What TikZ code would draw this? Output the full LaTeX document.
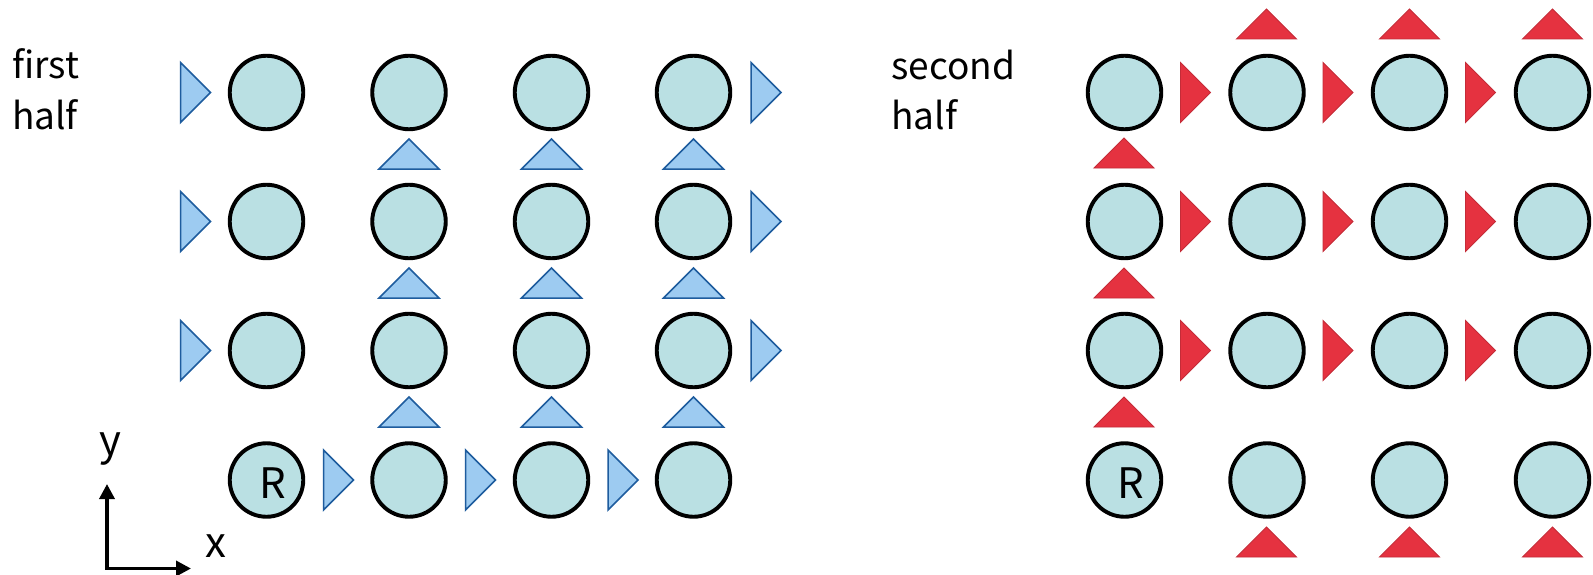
\documentclass[tikz,border=0pt]{standalone}
\usepackage{fontspec}
\setmainfont{Noto Sans CJK JP}
\usetikzlibrary{arrows.meta}
\definecolor{cellfill}{RGB}{186,224,227}
\definecolor{bluefill}{RGB}{157,203,241}
\definecolor{blueline}{RGB}{30,92,158}
\definecolor{redfill}{RGB}{229,50,64}
\definecolor{redline}{RGB}{196,44,56}
\begin{document}
\begin{tikzpicture}[x=1pt,y=-1pt,
  cell/.style={circle, draw=black, line width=3.9pt, fill=cellfill, minimum size=73.5pt, inner sep=0pt},
  bt/.style={fill=bluefill, draw=blueline, line width=1.5pt, line join=miter},
  rt/.style={fill=redfill, draw=redline, line width=0.9pt, line join=miter},
  uptri/.pic={\path[pic actions] (-30,15) -- (0,-15) -- (30,15) -- cycle;},
  righttri/.pic={\path[pic actions] (-15,-30) -- (15,0) -- (-15,30) -- cycle;},
  lbl/.style={font=\fontsize{37}{42}\selectfont, inner sep=0pt, anchor=base west},
  biglbl/.style={font=\fontsize{42}{48}\selectfont, inner sep=0pt},
  axis/.style={line width=3.5pt, line join=miter, {Triangle[length=15pt,width=15pt]}-{Triangle[length=15pt,width=15pt]}}
]
\fill[white] (0,0) rectangle (1593,575);
\useasboundingbox (0,0) rectangle (1593,575);

% ---------- first half ----------
\foreach \c/\x in {1/266.5,2/409,3/551.5,4/693.5}
  \foreach \r/\y in {1/92.5,2/221.5,3/350.5,4/480}
    \node[cell] (a\r\c) at (\x,\y) {};
\node[biglbl] at ([xshift=6.5pt,yshift=-3.5pt]a41.center) {R};

\foreach \y in {92.5,221.5,350.5}{
  \pic[bt] at (195.5,\y) {righttri};
  \pic[bt] at (766,\y) {righttri};
}
\foreach \x in {338.5,480.5,623}
  \pic[bt] at (\x,480) {righttri};
\foreach \x in {409,551.5,693.5}
  \foreach \y in {154,283,412}
    \pic[bt] at (\x,\y) {uptri};

\node[lbl] (t1) at (12,79) {first};
\node[lbl] (t2) at (12,130) {half};

% axes
\coordinate (ay) at (107,484);
\coordinate (ax) at (191,568.5);
\draw[axis] (ay) |- (ax);
\node[biglbl, anchor=base] (ylab) at (110,455) {y};
\node[biglbl, anchor=base] (xlab) at (215.5,557) {x};

% ---------- second half ----------
\foreach \c/\x in {1/1124.5,2/1267,3/1409.5,4/1552.5}
  \foreach \r/\y in {1/92.5,2/221.5,3/350.5,4/480}
    \node[cell] (b\r\c) at (\x,\y) {};
\node[biglbl] at ([xshift=6.5pt,yshift=-3.5pt]b41.center) {R};

\foreach \y in {92.5,221.5,350.5}
  \foreach \x in {1195.5,1338,1480.5}
    \pic[rt] at (\x,\y) {righttri};
\foreach \y in {153,283,412}
  \pic[rt] at (1124,\y) {uptri};
\foreach \x in {1266.5,1409.5,1552.5}{
  \pic[rt] at (\x,24) {uptri};
  \pic[rt] at (\x,542) {uptri};
}

\node[lbl] (t3) at (891,80) {second};
\node[lbl] (t4) at (891,130) {half};
\end{tikzpicture}
\end{document}
